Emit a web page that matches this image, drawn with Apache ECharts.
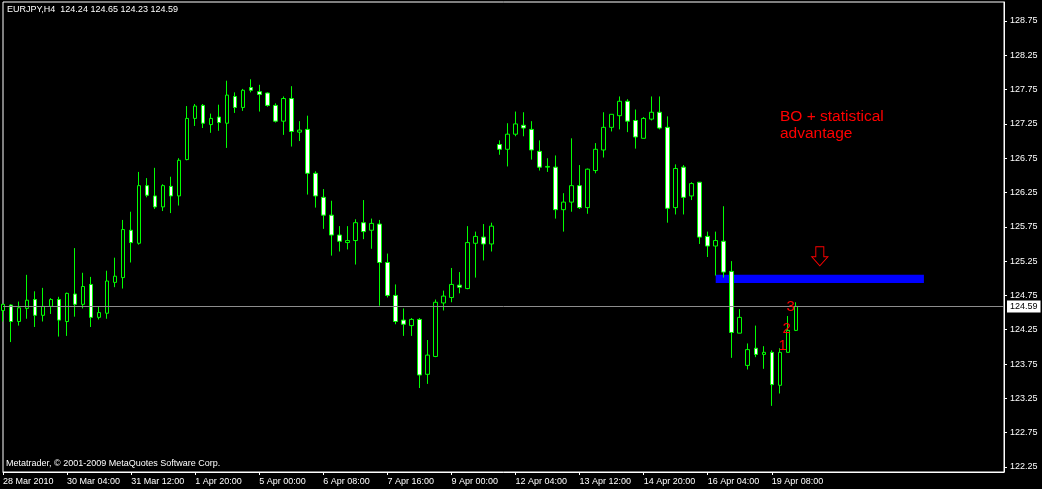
<!DOCTYPE html>
<html>
<head>
<meta charset="utf-8">
<script src="https://cdn.jsdelivr.net/npm/echarts@6/dist/echarts.min.js"></script>
<style>
html,body{margin:0;padding:0;background:#000;}
#c{width:1042px;height:489px;}
</style>
</head>
<body>
<div id="c"></div>
<script>
// ---- data (EURJPY, H4) ----
const sessions = [
  ['28 Mar',20,20],['29 Mar',0,20],['30 Mar',0,20],['31 Mar',0,20],['1 Apr',0,20],['2 Apr',0,20],
  ['4 Apr',20,20],['5 Apr',0,20],['6 Apr',0,20],['7 Apr',0,20],['8 Apr',0,20],['9 Apr',0,20],
  ['11 Apr',20,20],['12 Apr',0,20],['13 Apr',0,20],['14 Apr',0,20],['15 Apr',0,20],['16 Apr',0,20],
  ['18 Apr',20,20],['19 Apr',0,20]
];
const openP = [124.53,124.61,124.37,124.56,124.69,124.46,124.59,124.69,124.37,124.77,
  124.62,124.91,124.43,124.49,124.94,125.01,125.70,125.51,126.35,126.20,
  126.04,126.34,126.20,126.73,127.33,127.52,127.24,127.35,127.26,127.65,
  127.49,127.78,127.72,127.70,127.52,127.29,127.62,127.13,127.17,126.53,
  126.18,125.92,125.63,125.52,125.55,125.81,125.70,125.79,125.23,124.75,
  124.39,124.31,124.40,123.60,123.86,124.64,124.72,124.90,124.85,125.51,
  125.60,125.50,126.95,126.88,127.10,127.23,127.17,126.85,126.62,126.62,
  126.00,126.11,126.35,126.03,126.57,126.87,127.20,127.37,127.58,127.30,
  127.04,127.32,127.42,127.20,126.03,126.62,126.20,126.40,125.61,125.47,
  125.54,125.10,124.20,123.73,123.98,123.89,123.92,123.44,123.92,124.24];
const highP = [124.63,124.62,124.66,125.05,124.81,124.86,124.71,124.73,124.79,125.44,
  125.08,125.02,124.59,125.11,125.30,125.85,125.97,126.55,126.46,126.61,
  126.37,126.48,126.75,127.51,127.54,127.54,127.40,127.53,127.88,127.71,
  127.76,127.90,127.82,127.71,127.55,127.65,127.80,127.29,127.37,126.56,
  126.30,126.13,125.76,125.76,125.86,126.14,125.87,125.85,125.36,124.91,
  124.56,124.42,124.42,124.10,124.69,124.82,125.15,125.09,125.76,125.68,
  125.79,125.81,127.01,127.26,127.43,127.42,127.29,127.01,126.75,126.79,
  126.24,127.04,126.65,126.60,126.97,127.42,127.39,127.65,127.61,127.46,
  127.35,127.65,127.65,127.36,126.66,126.65,126.40,126.40,125.68,125.68,
  126.05,125.25,124.55,124.05,124.31,124.01,123.95,123.98,124.45,124.65];
const lowP = [124.37,124.07,124.31,124.41,124.29,124.37,124.48,124.15,124.16,124.44,
  124.56,124.29,124.40,124.41,124.87,124.85,125.23,125.49,126.18,126.01,
  125.98,125.95,126.06,126.72,127.22,127.19,127.12,127.15,126.90,127.41,
  127.44,127.71,127.43,127.50,127.27,127.09,126.92,127.00,126.22,126.03,
  125.72,125.33,125.39,125.42,125.20,125.57,125.43,124.60,124.72,124.33,
  124.16,124.16,123.40,123.46,123.85,124.53,124.65,124.78,124.84,125.01,
  125.26,125.39,126.80,126.63,127.07,127.07,126.73,126.57,126.55,125.87,
  125.68,125.97,126.01,125.94,126.53,126.76,127.14,127.17,127.13,126.89,
  127.04,127.30,127.17,125.81,125.93,125.93,126.14,125.50,125.31,125.04,
  125.01,123.84,124.20,123.67,123.85,123.68,123.14,123.32,123.92,124.23];
const closeP = [124.62,124.37,124.57,124.68,124.46,124.59,124.69,124.39,124.78,124.62,
  124.88,124.43,124.50,124.96,125.03,125.71,125.52,126.35,126.21,126.04,
  126.35,126.20,126.72,127.33,127.51,127.26,127.33,127.27,127.67,127.49,
  127.74,127.74,127.68,127.52,127.29,127.62,127.14,127.16,126.53,126.20,
  125.92,125.63,125.54,125.55,125.81,125.68,125.80,125.23,124.75,124.37,
  124.33,124.40,123.59,123.88,124.65,124.74,124.91,124.87,125.52,125.61,
  125.50,125.76,126.88,127.10,127.25,127.19,126.87,126.62,126.63,126.00,
  126.11,126.35,126.03,126.59,126.88,127.20,127.39,127.58,127.29,127.06,
  127.33,127.42,127.19,126.02,126.60,126.18,126.38,125.60,125.47,125.55,
  125.09,124.21,124.43,123.96,123.89,123.92,123.45,123.92,124.24,124.59];
const xTickLabels = ['28 Mar 2010','30 Mar 04:00','31 Mar 12:00','1 Apr 20:00','5 Apr 00:00',
  '6 Apr 08:00','7 Apr 16:00','9 Apr 00:00','12 Apr 04:00','13 Apr 12:00','14 Apr 20:00',
  '16 Apr 04:00','19 Apr 08:00'];
const yTickValues = [122.25,122.75,123.25,123.75,124.25,124.75,125.25,125.75,126.25,126.75,127.25,127.75,128.25,128.75];
const bidPrice = 124.59;
const zone = {from: 89, to: 115, low: 124.93, high: 125.05};
const arrowAt = {index: 102, price: 125.32};
const waveIndex = [97, 97, 98];
const waveNames = ['1', '2', '3'];
const wavePrices = [124.01, 124.26, 124.59];
const emptyBars = 26;

// ---- build ----
const pad2 = n => (n < 10 ? '0' : '') + n;
const categories = [];
sessions.forEach(([d, h0, h1]) => { for (let h = h0; h <= h1; h += 4) categories.push(d + ' ' + pad2(h) + ':00'); });
const nBars = categories.length;
const allCats = categories.slice();
for (let k = 0; k < emptyBars; k++) allCats.push('_' + k);
const ohlc = openP.map((o, i) => [o, closeP[i], lowP[i], highP[i]]);
const last = ohlc.length - 1;
const titleText = 'EURJPY,H4  ' + [openP[last], highP[last], lowP[last], closeP[last]].map(v => v.toFixed(2)).join(' ');

const FONT = 'Liberation Sans';
const chart = echarts.init(document.getElementById('c'), null, {renderer: 'canvas'});
const waveOffsets = [[-5, 0], [-1, 0], [3, 0]];
chart.setOption({
  backgroundColor: '#000',
  animation: false,
  grid: {left: 3, right: 38, top: 2, bottom: 17, show: true, borderColor: '#fff', borderWidth: 1, backgroundColor: '#000'},
  xAxis: {
    type: 'category', data: allCats, boundaryGap: false,
    axisLine: {show: true, lineStyle: {color: '#fff', width: 1}},
    axisTick: {show: true, length: 3, inside: false, lineStyle: {color: '#fff'},
      interval: (i) => i < nBars && i % 8 === 0},
    axisLabel: {show: true, color: '#fff', fontFamily: FONT, fontSize: 9, align: 'left', margin: 5,
      interval: (i) => i < nBars && i % 8 === 0,
      formatter: (v, i) => xTickLabels[i / 8] || ''},
    splitLine: {show: false}
  },
  yAxis: {
    type: 'value', position: 'right', scale: true, min: 122.176, max: 129.027,
    axisLine: {show: true, lineStyle: {color: '#fff', width: 1}},
    axisTick: {show: true, length: 3, lineStyle: {color: '#fff'}, customValues: yTickValues},
    axisLabel: {show: true, color: '#fff', fontFamily: FONT, fontSize: 9, margin: 6,
      customValues: yTickValues, formatter: v => v.toFixed(2)},
    splitLine: {show: false}
  },
  graphic: [
    {type: 'text', left: 7, top: 5, z: 10, style: {text: titleText, fill: '#fff', font: '9px "' + FONT + '"'}},
    {type: 'text', left: 6, top: 459, z: 10, style: {text: 'Metatrader, \u00a9 2001-2009 MetaQuotes Software Corp.', fill: '#fff', font: '9px "' + FONT + '"'}},
    {type: 'text', left: 780, top: 108, z: 10, style: {text: 'BO + statistical\nadvantage', fill: '#ff0000', font: '15.5px "' + FONT + '"', lineHeight: 17}}
  ],
  series: [{
    type: 'candlestick',
    data: ohlc,
    barWidth: 4,
    itemStyle: {color: '#000', color0: '#fff', borderColor: '#00ff00', borderColor0: '#00ff00', borderWidth: 1},
    markArea: {
      silent: true,
      itemStyle: {color: '#0000ff', opacity: 1},
      data: [[{coord: [zone.from, zone.high]}, {coord: [zone.to, zone.low]}]]
    },
    markLine: {
      silent: true, symbol: 'none',
      lineStyle: {color: '#8c8c8c', width: 1, type: 'solid'},
      label: {show: true, position: 'end', distance: 3, formatter: () => bidPrice.toFixed(2),
        color: '#000', backgroundColor: '#fff', padding: [2, 3, 1, 3], fontFamily: FONT, fontSize: 9},
      data: [{yAxis: bidPrice}]
    },
    markPoint: {
      silent: true,
      data: [
        {coord: [arrowAt.index, arrowAt.price], symbol: 'path://M4,0 L12,0 L12,10 L16,10 L8,19 L0,10 L4,10 Z',
          symbolSize: [16, 19], itemStyle: {color: 'rgba(0,0,0,0)', borderColor: '#ff0000', borderWidth: 1}, label: {show: false}}
      ].concat(waveNames.map((n, k) => ({
        coord: [waveIndex[k], wavePrices[k]], symbol: 'circle', symbolSize: 1,
        itemStyle: {color: 'rgba(0,0,0,0)'},
        label: {show: true, position: 'inside', formatter: n, color: '#ff0000', fontFamily: FONT, fontSize: 15,
          offset: [waveOffsets[k][0] + (waveIndex[k] === 97 ? 8 : 0), waveOffsets[k][1]]}
      })))
    }
  }]
});
</script>
</body>
</html>
